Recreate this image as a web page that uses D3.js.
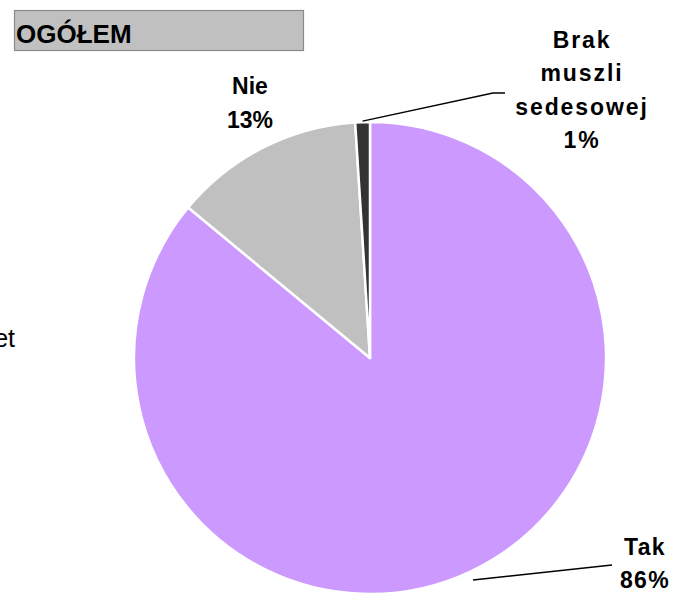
<!DOCTYPE html>
<html><head><meta charset="utf-8">
<script src="https://cdn.jsdelivr.net/npm/d3@7"></script>
<style>body{margin:0;background:#fff}svg{display:block;font-family:"Liberation Sans",Arial,sans-serif}</style>
</head><body>
<script>
const categories = ["Tak", "Nie", "Brak muszli sedesowej"];
const values = [86, 13, 1];
const colors = ["#CC99FF", "#C0C0C0", "#333333"];
const labelLines = [["Tak", "86%"], ["Nie", "13%"], ["Brak", "muszli", "sedesowej", "1%"]];
const title = "OGÓŁEM";

const W = 675, H = 594;
const svg = d3.select("body").append("svg").attr("width", W).attr("height", H);

const cx = 370, cy = 358, r = 236;
const pie = d3.pie().sort(null).value(d => d)(values);
const arc = d3.arc().innerRadius(0).outerRadius(r);
const g = svg.append("g").attr("transform", `translate(${cx},${cy})`);
g.selectAll("path").data(pie).join("path")
  .attr("d", arc)
  .attr("fill", (d, i) => colors[i])
  .attr("stroke", "#fff").attr("stroke-width", 2.5).attr("stroke-linejoin", "round");

// title box
svg.append("rect").attr("x", 14.5).attr("y", 10.5).attr("width", 289).attr("height", 40)
  .attr("fill", "#C0C0C0").attr("stroke", "#8a8a8a").attr("stroke-width", 1.2);
svg.append("text").attr("x", 16).attr("y", 43).attr("font-size", 26).attr("font-weight", "bold")
  .attr("fill", "#000").text(title);

// truncated legend remnant (cut at the left edge, as in the reference)
svg.append("text").attr("x", 15).attr("y", 347).attr("font-size", 25).attr("text-anchor", "end")
  .attr("fill", "#000").text("et");

// labels
const labelPos = [
  {x: 645, y: 555, dy: 33, ls: 1.3},
  {x: 250, y: 94, dy: 34, ls: 0},
  {x: 582, y: 48, dy: 33.3, ls: 1.9}
];
labelLines.forEach((lines, i) => {
  const t = svg.append("text").attr("text-anchor", "middle").attr("font-size", 23)
    .attr("font-weight", "bold").attr("fill", "#000");
  lines.forEach((ln, j) => {
    t.append("tspan").attr("x", labelPos[i].x).attr("y", labelPos[i].y + j * labelPos[i].dy)
      .attr("letter-spacing", labelPos[i].ls).text(ln);
  });
});

// leader lines
const brak = pie[2];
const aB = (brak.startAngle + brak.endAngle) / 2;
const p1 = [cx + Math.sin(aB) * (r + 1), cy - Math.cos(aB) * (r + 1)];
svg.append("polyline").attr("points", [p1, [493, 93], [505, 93]].map(p => p.join(",")).join(" "))
  .attr("fill", "none").attr("stroke", "#000").attr("stroke-width", 1.5);
svg.append("polyline").attr("points", [[473, 580], [612, 565]].map(p => p.join(",")).join(" "))
  .attr("fill", "none").attr("stroke", "#000").attr("stroke-width", 1.5);
</script>
</body></html>
